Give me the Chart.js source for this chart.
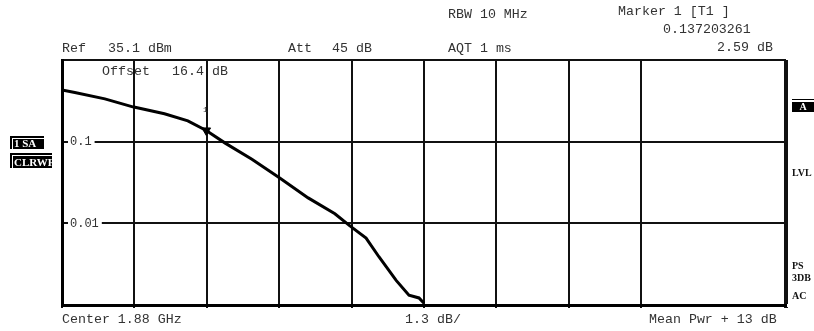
<!DOCTYPE html>
<html>
<head>
<meta charset="utf-8">
<script src="https://cdn.jsdelivr.net/npm/chart.js@4.4.1/dist/chart.umd.min.js"></script>
<style>
  html, body { margin: 0; padding: 0; background: #fff; overflow: hidden; }
  #wrap { position: relative; width: 814px; height: 331px; overflow: hidden; }
  #chart { position: absolute; left: 0; top: 0; }
  .t { position: absolute; font-family: "Liberation Mono", monospace; font-size: 13.3px; color: #333; white-space: pre; line-height: 14px; }
  .b { position: absolute; font-family: "Liberation Serif", serif; font-weight: bold; font-size: 10px; color: #111; white-space: pre; line-height: 11px; }
  .box { position: absolute; background: #000; color: #fff; font-family: "Liberation Serif", serif; font-weight: bold; font-size: 11px; line-height: 12px; overflow: hidden; white-space: pre; box-shadow: inset 2px 2px 0 #000, inset 3px 3px 0 #fff; padding-left: 4px; padding-top: 1px; box-sizing: border-box; }
</style>
</head>
<body>
<div id="wrap">
  <canvas id="chart" width="814" height="331"></canvas>

  <div class="t" style="left:618px; top:5px;">Marker 1 [T1 ]</div>
  <div class="t" style="left:448px; top:8px;">RBW 10 MHz</div>
  <div class="t" style="left:663px; top:23px;">0.137203261</div>
  <div class="t" style="left:717px; top:41px;">2.59 dB</div>
  <div class="t" style="left:62px; top:42px;">Ref</div>
  <div class="t" style="left:108px; top:42px;">35.1 dBm</div>
  <div class="t" style="left:288px; top:42px;">Att</div>
  <div class="t" style="left:332px; top:42px;">45 dB</div>
  <div class="t" style="left:448px; top:42px;">AQT 1 ms</div>
  <div class="t" style="left:102px; top:65px;">Offset</div>
  <div class="t" style="left:172px; top:65px;">16.4 dB</div>
  <div class="t" style="left:62px; top:313px;">Center 1.88 GHz</div>
  <div class="t" style="left:405px; top:313px;">1.3 dB/</div>
  <div class="t" style="left:649px; top:313px;">Mean Pwr + 13 dB</div>

  <div class="t" style="left:203px; top:106px; font-size:8px; line-height:8px;">1</div>

  <div class="box" style="left:10px; top:136px; width:34px; height:13px;">1 SA</div>
  <div class="box" style="left:10px; top:153px; width:42px; height:15px; padding-top:3px;">CLRWR</div>

  <div style="position:absolute; left:792px; top:99px; width:22px; height:13px; border-top:1px solid #000; box-sizing:border-box; padding-top:2px;">
    <div style="background:#000; color:#fff; font-family:'Liberation Serif',serif; font-weight:bold; font-size:10px; line-height:10px; height:10px; text-align:center;">A</div>
  </div>
  <div class="b" style="left:792px; top:167px;">LVL</div>
  <div class="b" style="left:792px; top:260px;">PS</div>
  <div class="b" style="left:792px; top:272px;">3DB</div>
  <div class="b" style="left:792px; top:290px;">AC</div>
</div>

<script>
// CCDF trace: level above mean power (dB) vs probability
const levelDb = [0.0, 0.23, 0.77, 1.27, 1.84, 2.26, 2.59, 2.93, 3.41, 3.91, 4.42, 4.9, 5.17, 5.46, 5.69, 6.0, 6.23, 6.41, 6.5];
const probability = [0.43, 0.40, 0.334, 0.267, 0.22, 0.18, 0.137, 0.096, 0.061, 0.0359, 0.0205, 0.0131, 0.0093, 0.0066, 0.0039, 0.002, 0.00132, 0.00122, 0.00105];

const markerDb = [2.59];
const markerProb = [0.137203261];

const xTicks = [0, 1.3, 2.6, 3.9, 5.2, 6.5, 7.8, 9.1, 10.4, 11.7, 13];
const yTicks = [0.001, 0.01, 0.1, 1];
const yLabels = ["", "0.01", "0.1", ""];

const trace = levelDb.map((x, i) => ({ x: x, y: probability[i] }));
const marker = markerDb.map((x, i) => ({ x: x, y: markerProb[i] }));

const gridColor = "#111";

new Chart(document.getElementById("chart"), {
    type: "line",
    data: {
        datasets: [
            {
                data: trace,
                borderColor: "#000",
                borderWidth: 3,
                pointRadius: 0,
                tension: 0
            },
            {
                data: marker,
                showLine: false,
                pointStyle: "triangle",
                rotation: 180,
                pointRadius: 5,
                backgroundColor: "#000",
                borderColor: "#000",
                borderWidth: 1
            }
        ]
    },
    options: {
        responsive: false,
        animation: false,
        layout: { padding: { left: 62, top: 60, right: 28, bottom: 23 } },
        plugins: { legend: { display: false }, tooltip: { enabled: false } },
        scales: {
            x: {
                type: "linear",
                min: 0,
                max: 13,
                afterBuildTicks: s => { s.ticks = xTicks.map(v => ({ value: v })); },
                afterFit: s => { s.height = 3; },
                ticks: { display: false },
                border: { display: true, width: 3, color: "#000" },
                grid: {
                    drawTicks: true,
                    tickLength: 3,
                    color: ctx => ctx.index === 9 ? "rgba(0,0,0,0)" : gridColor,
                    lineWidth: ctx => ctx.index === 10 ? 4 : 2
                }
            },
            y: {
                type: "logarithmic",
                min: 0.001,
                max: 1,
                afterBuildTicks: s => { s.ticks = yTicks.map(v => ({ value: v })); },
                afterFit: s => { s.width = 0; },
                border: { display: true, width: 3, color: "#000" },
                grid: {
                    drawTicks: false,
                    color: gridColor,
                    lineWidth: 2
                },
                ticks: {
                    mirror: true,
                    padding: 8,
                    color: "#333",
                    font: { family: "Liberation Mono", size: 12 },
                    callback: (v, i) => yLabels[i],
                    showLabelBackdrop: true,
                    backdropColor: ctx => (ctx.index === 1 || ctx.index === 2) ? "#fff" : "rgba(0,0,0,0)",
                    backdropPadding: { top: 0, bottom: 0, left: 2, right: 3 }
                }
            }
        }
    }
});
</script>
</body>
</html>
